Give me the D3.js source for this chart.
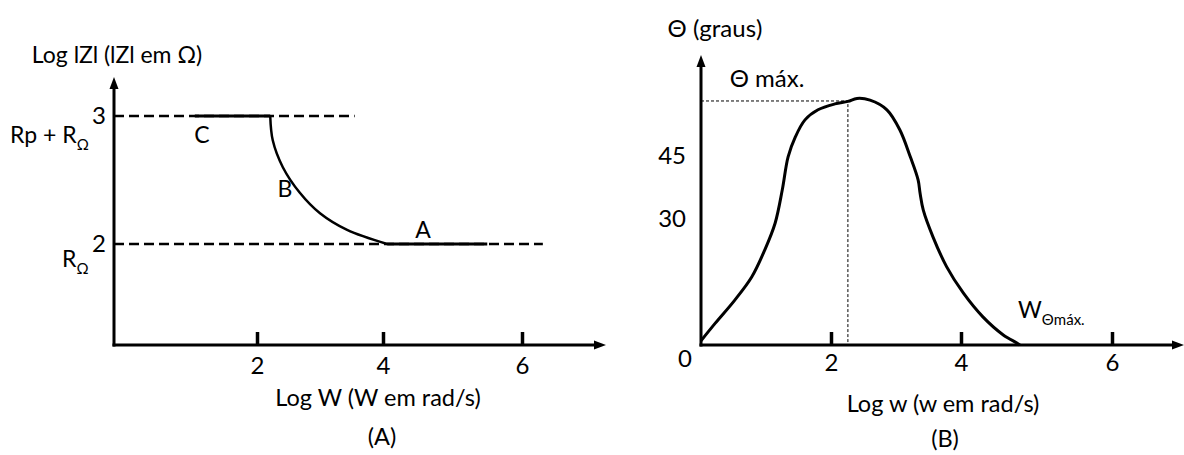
<!DOCTYPE html>
<html>
<head>
<meta charset="utf-8">
<script src="https://cdn.jsdelivr.net/npm/d3@7"></script>
<style>
  body { margin: 0; background: #fff; }
  svg text { font-family: Lato, "Open Sans", sans-serif; fill: #000; }
</style>
</head>
<body>
<div id="container"></div>
<script>
// ---- data: panel A (log |Z| vs log W) ----
const zTicks = [2, 3];
const wTicksA = [2, 4, 6];
const regionC = [[1.13, 3], [2.21, 3]];
const regionB = [[2.21, 3.0], [2.25, 2.81], [2.41, 2.6], [2.68, 2.4], [3.0, 2.24], [3.43, 2.11], [4.06, 2.0]];
const regionA = [[4.06, 2], [5.5, 2]];
const dashHigh = [[0, 3], [3.55, 3]];
const dashLow = [[0, 2], [6.3, 2]];

// ---- data: panel B (phase angle vs log w) ----
const thetaTicks = [30, 45];
const wTicksB = [2, 4, 6];
const thetaCurve = [
  [0, 1], [0.22, 5.2], [0.52, 10.7], [0.78, 16.2], [0.98, 22.6], [1.14, 29.0],
  [1.25, 36.9], [1.34, 44.8], [1.45, 49.5], [1.6, 53.6], [1.8, 56.0], [2.06, 57.4],
  [2.26, 58.0], [2.4, 58.7], [2.6, 58.3], [2.86, 56.0], [3.06, 51.2], [3.22, 44.8],
  [3.34, 39.3], [3.37, 36.2], [3.42, 32.1], [3.57, 25.7], [3.78, 18.6], [4.03, 12.4],
  [4.29, 6.7], [4.56, 2.4], [4.74, 0.5], [4.78, 0]
];
const thetaMax = 58.1;
const wThetaMax = 2.26;

const width = 1184, height = 455;
const axisA = { x0: 114, y0: 345, top: 77, right: 606 };
const axisB = { x0: 701, y0: 345, top: 55, right: 1184 };

const svg = d3.select("#container").append("svg")
  .attr("width", width).attr("height", height);

// hand-drawn axes are not evenly spaced, so the scales are piecewise
const xA = d3.scaleLinear().domain([0, 2, 4, 6]).range([114, 257, 383, 522]);
const yA = d3.scaleLinear().domain([2, 3]).range([244, 116]);
const xB = d3.scaleLinear().domain([0, 2, 4, 6]).range([701, 831, 961, 1112]);
const yB = d3.scaleLinear().domain([0, 45]).range([345, 156]);

function arrowAxes(g, ax) {
  g.append("line").attr("x1", ax.x0).attr("y1", ax.y0 + 1.5).attr("x2", ax.x0).attr("y2", ax.top + 8)
    .attr("stroke", "#000").attr("stroke-width", 3);
  g.append("path")
    .attr("d", `M${ax.x0 - 4.5},${ax.top + 12} L${ax.x0},${ax.top} L${ax.x0 + 4.5},${ax.top + 12} Z`)
    .attr("fill", "#000");
  g.append("line").attr("x1", ax.x0 - 1.5).attr("y1", ax.y0).attr("x2", ax.right - 8).attr("y2", ax.y0)
    .attr("stroke", "#000").attr("stroke-width", 3);
  g.append("path")
    .attr("d", `M${ax.right - 12},${ax.y0 - 4.5} L${ax.right},${ax.y0} L${ax.right - 12},${ax.y0 + 4.5} Z`)
    .attr("fill", "#000");
}

function styleAxis(sel, fontSize) {
  sel.select(".domain").remove();
  sel.selectAll(".tick line").attr("stroke", "#000").attr("stroke-width", 3.5);
  sel.selectAll(".tick text").attr("font-size", fontSize).attr("font-family", "Lato, sans-serif").attr("fill", "#000");
}

function label(g, x, y, size, txt, anchor) {
  return g.append("text").attr("x", x).attr("y", y).attr("font-size", size)
    .attr("text-anchor", anchor || "middle").text(txt);
}

const line = d3.line().x(d => d[0]).y(d => d[1]);

// ===== panel A =====
const gA = svg.append("g");
const lineA = d3.line().x(d => xA(d[0])).y(d => yA(d[1]));
const smoothA = d3.line().x(d => xA(d[0])).y(d => yA(d[1])).curve(d3.curveCatmullRom.alpha(0.5));

[dashHigh, dashLow].forEach(d => {
  gA.append("path").attr("d", lineA(d)).attr("fill", "none")
    .attr("stroke", "#000").attr("stroke-width", 2.5).attr("stroke-dasharray", "10,5");
});
[regionC, regionA].forEach(d => {
  gA.append("path").attr("d", lineA(d)).attr("fill", "none")
    .attr("stroke", "#000").attr("stroke-width", 3);
});
gA.append("path").attr("d", smoothA(regionB)).attr("fill", "none")
  .attr("stroke", "#000").attr("stroke-width", 2.5);

gA.append("g").attr("transform", `translate(0,${axisA.y0})`)
  .call(d3.axisBottom(xA).tickValues(wTicksA).tickSize(-13).tickPadding(12).tickFormat(d3.format("d")))
  .call(s => styleAxis(s, 24));
gA.append("g").attr("transform", `translate(${axisA.x0},0)`)
  .call(d3.axisLeft(yA).tickValues(zTicks).tickSize(0).tickPadding(8).tickFormat(d3.format("d")))
  .call(s => styleAxis(s, 24));
arrowAxes(gA, axisA);

label(gA, 117, 63, 23, "Log lZl (lZl em Ω)");
const rp = gA.append("text").attr("x", 10).attr("y", 143).attr("font-size", 23);
rp.append("tspan").text("Rp + R");
rp.append("tspan").attr("dy", 7).attr("font-size", 15).text("Ω");
const ro = gA.append("text").attr("x", 62).attr("y", 267).attr("font-size", 23);
ro.append("tspan").text("R");
ro.append("tspan").attr("dy", 7).attr("font-size", 15).text("Ω");

label(gA, 202, 143, 23, "C");
label(gA, 285, 197, 23, "B");
label(gA, 423, 238, 23, "A");

label(gA, 378, 406, 23.5, "Log W (W em rad/s)");
label(gA, 382, 445, 23.5, "(A)");

// ===== panel B =====
const gB = svg.append("g");
const smoothB = d3.line().x(d => xB(d[0])).y(d => yB(d[1])).curve(d3.curveCatmullRom.alpha(0.5));

gB.append("path")
  .attr("d", line([[xB(0), yB(thetaMax)], [xB(wThetaMax), yB(thetaMax)], [xB(wThetaMax), yB(0)]]))
  .attr("fill", "none").attr("stroke", "#000").attr("stroke-width", 1).attr("stroke-dasharray", "3,2");

gB.append("path").attr("d", smoothB(thetaCurve)).attr("fill", "none")
  .attr("stroke", "#000").attr("stroke-width", 3);

gB.append("g").attr("transform", `translate(0,${axisB.y0})`)
  .call(d3.axisBottom(xB).tickValues(wTicksB).tickSize(-13).tickPadding(9).tickFormat(d3.format("d")))
  .call(s => styleAxis(s, 24));
gB.append("g").attr("transform", `translate(${axisB.x0},0)`)
  .call(d3.axisLeft(yB).tickValues(thetaTicks).tickSize(0).tickPadding(15).tickFormat(d3.format("d")))
  .call(s => styleAxis(s, 24));
arrowAxes(gB, axisB);

label(gB, 685, 367, 24, "0");
label(gB, 715, 37, 24, "Θ (graus)");
label(gB, 767, 87, 24, "Θ máx.");
const wm = gB.append("text").attr("x", 1018).attr("y", 318).attr("font-size", 23);
wm.append("tspan").text("W");
wm.append("tspan").attr("dy", 7).attr("font-size", 15).text("Θmáx.");

label(gB, 943, 412, 23.5, "Log w (w em rad/s)");
label(gB, 945, 447, 23.5, "(B)");
</script>
</body>
</html>
